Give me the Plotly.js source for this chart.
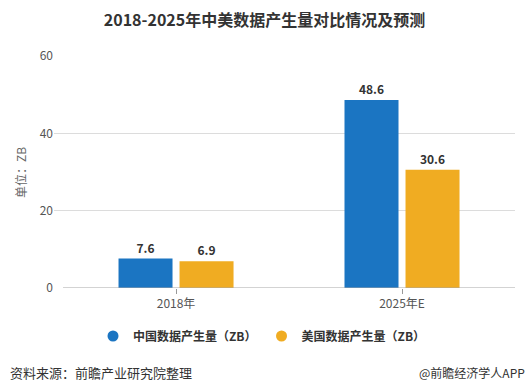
<!DOCTYPE html>
<html>
<head>
<meta charset="utf-8">
<script src="https://cdn.plot.ly/plotly-3.0.1.min.js"></script>
<style>html,body{margin:0;padding:0;background:#fff;}#chart{width:529px;height:390px;}</style>
</head>
<body>
<div id="chart"></div>
<script>
var categories = ["2018年", "2025年E"];
var chinaValues = [7.6, 48.6];
var usValues = [6.9, 30.6];
var seriesNames = ["中国数据产生量（ZB）", "美国数据产生量（ZB）"];
var yTicks = [0, 20, 40, 60];

var FONT = '"Noto Sans CJK SC", "Microsoft YaHei", sans-serif';
var BLUE = '#1b75c2';
var ORANGE = '#f0ac22';

var traces = [
  {type: 'bar', x: categories, y: chinaValues, marker: {color: BLUE}, showlegend: false,
   text: chinaValues.map(function(v){return v.toFixed(1);}), textposition: 'outside', cliponaxis: false,
   textfont: {family: FONT, size: 12, color: '#333', weight: 'bold'}, hoverinfo: 'none'},
  {type: 'bar', x: categories, y: usValues, marker: {color: ORANGE}, showlegend: false,
   text: usValues.map(function(v){return v.toFixed(1);}), textposition: 'outside', cliponaxis: false,
   textfont: {family: FONT, size: 12, color: '#333', weight: 'bold'}, hoverinfo: 'none'},
  {type: 'scatter', mode: 'markers', x: [null], y: [null], name: seriesNames[0],
   marker: {color: BLUE, size: 11, symbol: 'circle'}},
  {type: 'scatter', mode: 'markers', x: [null], y: [null], name: seriesNames[1],
   marker: {color: ORANGE, size: 11, symbol: 'circle'}}
];

var layout = {
  width: 529, height: 390,
  margin: {l: 54, r: 14, t: 56, b: 102},
  paper_bgcolor: '#fff', plot_bgcolor: '#fff',
  font: {family: FONT, size: 12, color: '#555'},
  title: {text: '<b>2018-2025年中美数据产生量对比情况及预测</b>', x: 0.5, xref: 'container',
          y: 1 - 20/390, yref: 'container', yanchor: 'middle', xanchor: 'center',
          font: {family: FONT, size: 16, color: '#333'}},
  barmode: 'group', bargap: 0.46, bargroupgap: 0.115,
  xaxis: {type: 'category', range: [-0.54, 1.5], showgrid: false, zeroline: false, showline: false,
          ticks: 'outside', ticklen: 5, tickcolor: '#999', tickwidth: 1,
          tickfont: {family: FONT, size: 12, color: '#555'}, fixedrange: true},
  yaxis: {range: [0, 60], tickvals: yTicks, ticktext: yTicks.map(String), showgrid: true,
          gridcolor: '#dcdcdc', gridwidth: 1, zeroline: false, showline: false, ticks: '',
          tickfont: {family: FONT, size: 12, color: '#555'}, fixedrange: true},
  shapes: [
    {type: 'line', xref: 'x', yref: 'y', x0: -0.5, x1: 1.5, y0: 0, y1: 0,
     line: {color: '#a6a6a6', width: 1}}
  ],
  legend: {orientation: 'h', xref: 'container', yref: 'container', x: 93/529, xanchor: 'left',
           y: 54/390, yanchor: 'middle', font: {family: FONT, size: 12, color: '#333', weight: 'bold'},
           itemclick: false, itemdoubleclick: false},
  annotations: [
    {text: '单位：ZB', xref: 'paper', yref: 'paper', x: (20-54)/461, y: (288-173)/232,
     xanchor: 'center', yanchor: 'middle', textangle: -90, showarrow: false,
     font: {family: FONT, size: 12, color: '#666'}},
    {text: '资料来源：前瞻产业研究院整理', xref: 'paper', yref: 'paper', x: (8-54)/461, y: (288-372)/232,
     xanchor: 'left', yanchor: 'middle', showarrow: false,
     font: {family: FONT, size: 13, color: '#333'}},
    {text: '@前瞻经济学人APP', xref: 'paper', yref: 'paper', x: (527-54)/461, y: (288-372)/232,
     xanchor: 'right', yanchor: 'middle', showarrow: false,
     font: {family: FONT, size: 12, color: '#333'}}
  ]
};

Plotly.newPlot('chart', traces, layout, {displayModeBar: false, staticPlot: true});
</script>
</body>
</html>
